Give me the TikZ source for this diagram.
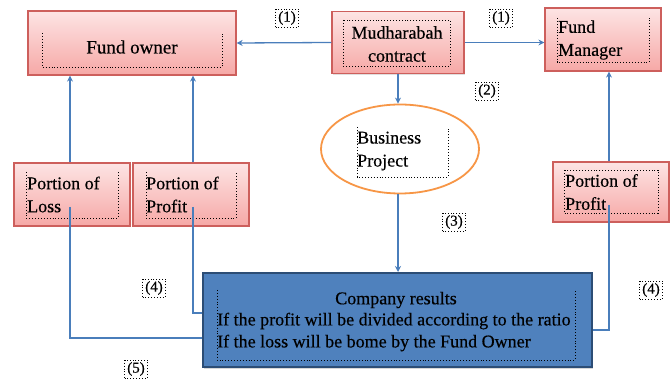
\documentclass[tikz,border=0pt]{standalone}
\usepackage{fontspec}
\setmainfont{Liberation Serif}[FakeBold=0.4]
\usetikzlibrary{arrows.meta,shadows,shapes.geometric}
\definecolor{pinkline}{RGB}{205,95,92}
\definecolor{pinktop}{RGB}{253,228,228}
\definecolor{pinkbot}{RGB}{246,168,166}
\definecolor{arrblue}{RGB}{74,126,187}
\definecolor{boxblue}{RGB}{79,129,189}
\definecolor{boxblueline}{RGB}{44,77,117}
\definecolor{orangeline}{RGB}{247,150,70}
\begin{document}
\begin{tikzpicture}[x=1pt,y=-1pt,
  pinkbox/.style={draw=pinkline, line width=1.2pt, top color=pinktop, bottom color=pinkbot,
    drop shadow={shadow xshift=1pt, shadow yshift=-1.5pt, fill=black!25}, inner sep=0pt},
  bluebox/.style={draw=boxblueline, line width=2pt, fill=boxblue,
    drop shadow={shadow xshift=1.5pt, shadow yshift=-2pt, fill=black!30}, inner sep=0pt},
  frame/.style={dotted, line width=0.9pt, black},
  txt/.style={inner sep=0pt, font=\fontsize{18}{23}\selectfont\addfontfeature{FakeBold=0.4}, text=black},
  lbl/.style={draw, dotted, line width=0.9pt, inner sep=1.5pt, minimum width=23pt, minimum height=18pt,
    font=\fontsize{15}{17}\selectfont},
  arr/.style={draw=arrblue, line width=1.3pt, -{Stealth[length=6pt,width=6pt]}},
  con/.style={draw=arrblue, line width=1.3pt}
]
\useasboundingbox (0,0) rectangle (672,379);

% outer boxes
\node[pinkbox, minimum width=208pt, minimum height=64pt] (fo) at (132,43) {};
\node[pinkbox, minimum width=132pt, minimum height=62pt] (mc) at (398,42.5) {};
\node[pinkbox, minimum width=116pt, minimum height=63pt] (fm) at (603,39.5) {};
\node[ellipse, draw=orangeline, line width=1.8pt, fill=white, minimum width=158pt, minimum height=89pt, inner sep=0pt] (bp) at (400,149) {};
\node[pinkbox, minimum width=116pt, minimum height=63pt] (pl) at (72,194.5) {};
\node[pinkbox, minimum width=116pt, minimum height=63pt] (pp) at (191,194.5) {};
\node[pinkbox, minimum width=116pt, minimum height=60pt] (pr) at (611,192) {};
\node[bluebox, minimum width=389pt, minimum height=94pt] (cr) at (397,320) {};

% dotted text frames
\draw[frame] (42,33) |- (222,67) -- (222,33);
\draw[frame] (343,20) rectangle (450,66);
\draw[frame] (557,18) |- (649,62) -- (649,18);
\draw[frame] (357,127) |- (448,177) -- (448,127);
\draw[frame] (26,172) |- (118,218) -- (118,172);
\draw[frame] (146,172) |- (236,218) -- (236,172);
\draw[frame] (564,170) rectangle (658,213);
\draw[frame] (217,290) |- (575,360) -- (575,290);

% texts
\node[txt, font=\fontsize{19}{23}\selectfont] (fot) at (132,47) {Fund owner};
\node[txt, align=center] (mct) at (397,44) {Mudharabah\\contract};
\node[txt, align=left, anchor=west] (fmt) at (558,40) {Fund\\Manager};
\node[txt, align=left, anchor=west] (bpt) at (357,151) {Business\\Project};
\node[txt, align=left, anchor=west] (plt) at (27,194.5) {Portion of\\Loss};
\node[txt, align=left, anchor=west] (ppt) at (146,194.5) {Portion of\\Profit};
\node[txt, align=left, anchor=west] (prt) at (565,192) {Portion of\\Profit};
\node[txt] (crt1) at (396,300) {Company results};
\node[txt, anchor=west] (crt2) at (217,321) {If the profit will be divided according to the ratio};
\node[txt, anchor=west] (crt3) at (217,343) {If the loss will be bome by the Fund Owner};

% labels
\node[lbl] (l1a) at (287,18) {(1)};
\node[lbl] (l1b) at (501,18) {(1)};
\node[lbl] (l2) at (487,91) {(2)};
\node[lbl] (l3) at (454,222) {(3)};
\node[lbl] (l4a) at (154,288) {(4)};
\node[lbl] (l4b) at (651,290) {(4)};
\node[lbl] (l5) at (136,369) {(5)};

% coordinates
\coordinate (plin) at (70,207);
\coordinate (ppin) at (193,207);
\coordinate (prin) at (609,205);
\coordinate (ylo) at (0,338);
\coordinate (ypo) at (0,313);
\coordinate (ypr) at (0,330);

% arrows
\draw[arr] (mc.west) -- (fo.east);
\draw[arr] (mc.east) -- (mc.east -| fm.west);
\draw[arr] (mc.south) -- (mc.south |- bp.north);
\draw[arr] (bp.south -| mc.south) -- (mc.south |- cr.north);
\draw[arr] (pl.north -| plin) -- (fo.south -| plin);
\draw[arr] (pp.north -| ppin) -- (fo.south -| ppin);
\draw[arr] (pr.north -| prin) -- (fm.south -| prin);

% connectors
\draw[con] (plin) |- (cr.west |- ylo);
\draw[con] (ppin) |- (cr.west |- ypo);
\draw[con] (prin) |- (cr.east |- ypr);
\end{tikzpicture}
\end{document}
